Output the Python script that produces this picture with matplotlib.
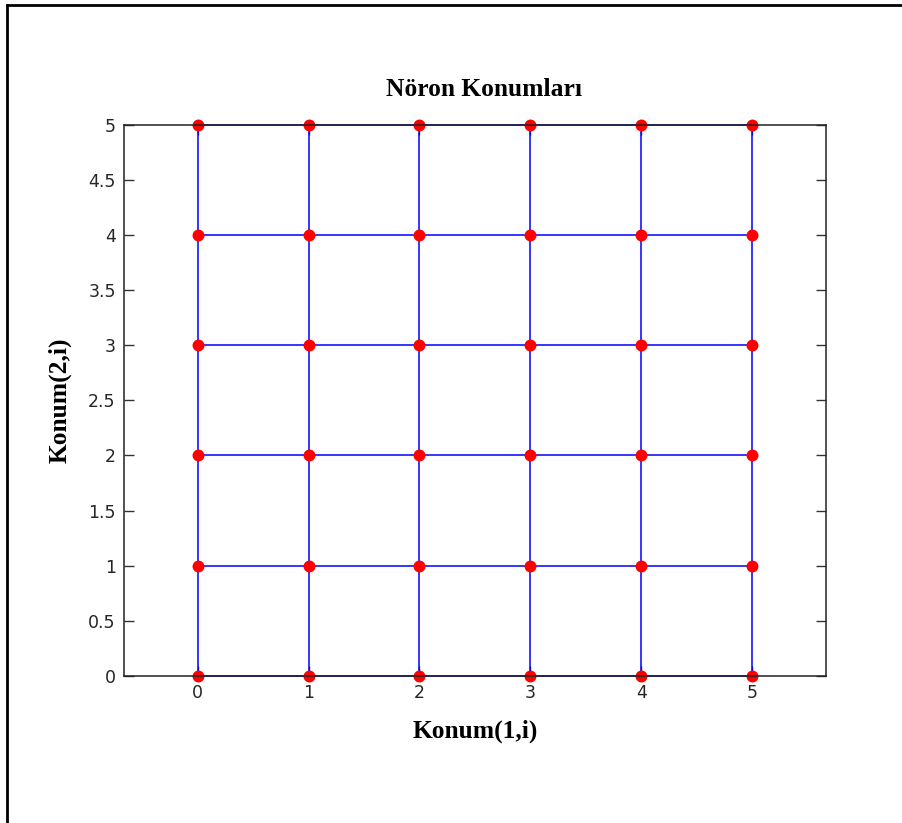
import numpy as np
import matplotlib.pyplot as plt
from matplotlib.lines import Line2D

# neuron grid positions (6x6 map)
konum_x = [0, 1, 2, 3, 4, 5]
konum_y = [0, 1, 2, 3, 4, 5]

y_ticks = [0, 0.5, 1, 1.5, 2, 2.5, 3, 3.5, 4, 4.5, 5]
y_ticklabels = ['0', '0.5', '1', '1.5', '2', '2.5', '3', '3.5', '4', '4.5', '5']
x_ticks = [0, 1, 2, 3, 4, 5]

fig = plt.figure(figsize=(9.02, 8.23), dpi=100)
ax = fig.add_axes([0.1375, 0.179, 0.7779, 0.669])

# grid connections: rows and columns
for y in konum_y:
    ax.plot(konum_x, [y] * len(konum_x), color='blue', lw=1.1, zorder=2, clip_on=False)
for x in konum_x:
    ax.plot([x] * len(konum_y), konum_y, color='blue', lw=1.1, zorder=2, clip_on=False)

gx, gy = np.meshgrid(konum_x, konum_y)
ax.plot(gx.ravel(), gy.ravel(), 'o', color='red', markersize=8.6,
        markeredgewidth=0, zorder=4, clip_on=False)

ax.set_xlim(-0.665, 5.665)
ax.set_ylim(0, 5)
ax.set_xticks(x_ticks)
ax.set_yticks(y_ticks)
ax.set_yticklabels(y_ticklabels)

ax.tick_params(direction='in', length=7, width=1, color='#333333',
               top=True, right=True, labelsize=12.5, labelcolor='#262626', pad=6)
for t in ax.get_xticklabels() + ax.get_yticklabels():
    t.set_family('DejaVu Sans')
for sp in ax.spines.values():
    sp.set_color('#222222')
    sp.set_linewidth(1.1)
    sp.set_zorder(5)

ax.set_title('Nöron Konumları', family='Liberation Serif', fontweight='bold',
             fontsize=18.4, pad=21, x=0.513)
ax.set_xlabel('Konum(1,i)', family='Liberation Serif', fontweight='bold',
              fontsize=18.4, labelpad=13)
ax.set_ylabel('Konum(2,i)', family='Liberation Serif', fontweight='bold',
              fontsize=18.4, labelpad=12)

# outer frame (left and top edges only)
fig.add_artist(Line2D([7 / 902, 7 / 902], [0, 1 - 5 / 823], transform=fig.transFigure,
                      color='black', lw=2))
fig.add_artist(Line2D([7 / 902, 1], [1 - 5 / 823, 1 - 5 / 823], transform=fig.transFigure,
                      color='black', lw=2))

fig.savefig('out.png', dpi=100)
